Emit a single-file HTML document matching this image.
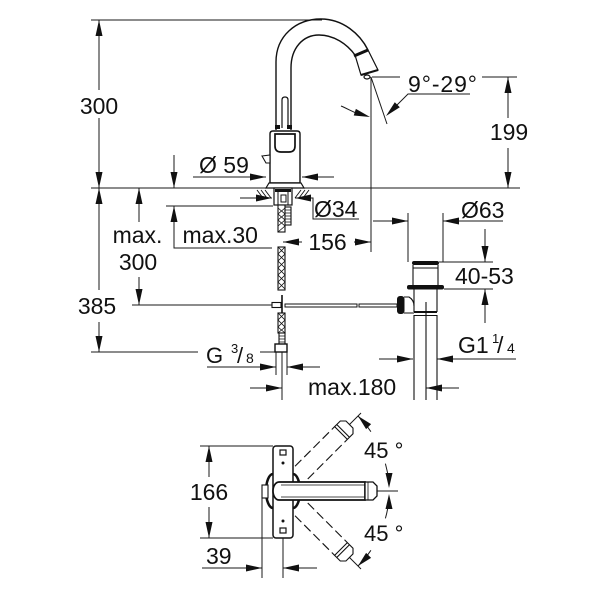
<!DOCTYPE html>
<html><head><meta charset="utf-8"><style>
html,body{margin:0;padding:0;background:#fff;}
svg{display:block;}
text{font-family:"Liberation Sans",Arial,sans-serif;fill:#111;}
</style></head><body>
<svg width="600" height="600" viewBox="0 0 600 600" xmlns="http://www.w3.org/2000/svg">
<rect width="600" height="600" fill="#fff"/>

<!-- dimension lines -->
<g stroke="#1a1a1a" stroke-width="1" fill="none">
<path d="M91 20H322"/>
<path d="M99 20V90M99 118V188"/>
<path d="M91 188H520"/>
<path d="M174 155V188"/>
<path d="M193 177H266M302 177H334"/>
<path d="M99 188V290M99 322V352"/>
<path d="M91 352H198M260 352H276"/>
<path d="M139 188V222M139 277V305"/>
<path d="M132 305H273"/>
<path d="M166 206H273M174 206V248H272"/>
<path d="M240 198H272M295 198H313V219H359"/>
<path d="M283 242H302M354 242H371M371 77V252"/>
<path d="M372 77H400M482 77H517M508 77V118M508 148V188"/>
<path d="M371 77L387 124"/>
<path d="M470 94H408L392 110"/>
<path d="M341 106C348 109 355 113 360 114.5"/>
<path d="M373 221H408M443 221H503M408 213V262M443 213V262"/>
<path d="M439 262H493M444 289H493M485 229V262M485 289V323"/>
<path d="M379 359H413M437 359H516"/>
<path d="M276 352V375M287 352V375M282 352V400M207 367H276M287 367H320"/>
<path d="M250 388H282M426 388H459"/>
<!-- top view dims -->
<path d="M200 446H273M200 538H273"/>
<path d="M209 446V477M209 507V538"/>
<path d="M262 498V578M283 538V578M202 568H262M283 568H317"/>
<path d="M377 491H398"/>
<path d="M358 416A106 106 0 0 1 370.9 431.7"/>
<path d="M385.4 463.6A106 106 0 0 1 388.9 482"/>
<path d="M388.9 500A106 106 0 0 1 385.4 518.4"/>
<path d="M370.9 550.3A106 106 0 0 1 358 566"/>
<path d="M349.5 424.5L361 413M349.5 557.5L361 569"/>
</g>

<!-- arrowheads -->
<g fill="#111" stroke="none">
<polygon points="99,20 95.5,36 102.5,36"/>
<polygon points="99,188 95.5,172 102.5,172"/>
<polygon points="174,188 170.5,172 177.5,172"/>
<polygon points="266,177 250,173.5 250,180.5"/>
<polygon points="302,177 318,173.5 318,180.5"/>
<polygon points="99,188 95.5,204 102.5,204"/>
<polygon points="99,352 95.5,336 102.5,336"/>
<polygon points="139,188 135.5,204 142.5,204"/>
<polygon points="139,305 135.5,289 142.5,289"/>
<polygon points="174,206 170.5,222 177.5,222"/>
<polygon points="272,198 256,194.5 256,201.5"/>
<polygon points="295,198 311,194.5 311,201.5"/>
<polygon points="283,242 299,238.5 299,245.5"/>
<polygon points="371,242 355,238.5 355,245.5"/>
<polygon points="508,77 504.5,93 511.5,93"/>
<polygon points="508,188 504.5,172 511.5,172"/>
<polygon points="386,116 399.8,107.2 394.8,102.2"/>
<polygon points="370,117 353.7,115.5 355.9,108.9"/>
<polygon points="408,221 392,217.5 392,224.5"/>
<polygon points="443,221 459,217.5 459,224.5"/>
<polygon points="485,262 481.5,246 488.5,246"/>
<polygon points="485,289 481.5,305 488.5,305"/>
<polygon points="413,359 397,355.5 397,362.5"/>
<polygon points="437,359 453,355.5 453,362.5"/>
<polygon points="276,367 260,363.5 260,370.5"/>
<polygon points="287,367 303,363.5 303,370.5"/>
<polygon points="282,388 266,384.5 266,391.5"/>
<polygon points="426,388 442,384.5 442,391.5"/>
<polygon points="209,446 205.5,462 212.5,462"/>
<polygon points="209,538 205.5,522 212.5,522"/>
<polygon points="262,568 246,564.5 246,571.5"/>
<polygon points="283,568 299,564.5 299,571.5"/>
<polygon points="358,416 371.1,424.1 366.1,429.1"/>
<polygon points="389,488 385.5,473 392.5,473"/>
<polygon points="389,494 385.5,509 392.5,509"/>
<polygon points="358,566 371.1,557.9 366.1,552.9"/>
</g>

<!-- faucet elevation -->
<g stroke="#111" fill="none">
<path d="M276 130V62C276 36 296 19 321 19C343 19 360 34 368 50" stroke-width="1.4"/>
<path d="M291 130V68C291 48 303 35 319 35C334 35 347 44 355 55" stroke-width="1.4"/>
<polygon points="355,55 368,50 378,70 361,75" fill="#fff" stroke-width="1.2"/>
<path d="M354 56L368 50" stroke-width="3"/>
<path d="M361 75L378 70" stroke-width="2"/>
<ellipse cx="367" cy="77" rx="3" ry="2" stroke-width="1.2"/>
<path d="M282 128V100Q282 97 285 97Q288 97 288 100V128" fill="#fff" stroke-width="1.2"/>
<rect x="275" y="125" width="5" height="4" fill="#111" stroke="none"/>
<rect x="287" y="125" width="5" height="4" fill="#111" stroke="none"/>
<path d="M270 183V134Q270 131 273 131H297Q300 131 300 134V183Z" fill="#fff" stroke-width="1.4"/>
<path d="M275 134H295V146Q295 152 289 152H281Q275 152 275 146Z" stroke-width="1.7"/>
<polygon points="262,156 270,155 270,163 266,163" fill="#fff" stroke-width="1.1"/>
<polygon points="269,183 301,183 304,188 266,188" fill="#fff" stroke-width="1.2"/>
<path d="M257 190L263 198M261 190L267 198M265 190L271 198M309 190L303 198M305 190L299 198M301 190L295 198" stroke-width="0.9"/>
<rect x="274" y="188" width="18" height="17" fill="#fff" stroke-width="1.2"/>
<rect x="275" y="189" width="16" height="3" fill="#111" stroke="none"/>
<path d="M278 192V205M288 192V205" stroke-width="1"/>
<rect x="281" y="195" width="5" height="7" stroke-width="1"/>
<!-- hoses -->
<rect x="278" y="205" width="7" height="27" fill="#fff" stroke-width="1.1"/>
<path d="M278 208L285 214L278 220L285 226L278 232M285 208L278 214L285 220L278 226" stroke-width="0.8"/>
<rect x="285" y="207" width="6" height="18" fill="#fff" stroke-width="1.1"/>
<path d="M285 210H291M285 213H291M285 216H291M285 219H291M285 222H291" stroke-width="0.8"/>
<rect x="278" y="247" width="7" height="43" fill="#fff" stroke-width="1.1"/>
<path d="M278 247L285 254L278 261L285 268L278 275L285 282L278 289M285 247L278 254L285 261L278 268L285 275L278 282L285 289" stroke-width="0.8"/>
<path d="M282 295V315" stroke-width="1.6"/>
<rect x="272" y="302.5" width="9" height="5" fill="#fff" stroke-width="1.1"/>
<rect x="285" y="304" width="72" height="3" fill="#fff" stroke-width="1"/>
<rect x="359" y="304" width="38" height="3" fill="#fff" stroke-width="1"/>
<rect x="278" y="313" width="7" height="20" fill="#fff" stroke-width="1.1"/>
<path d="M278 313L285 320L278 327L285 333M285 313L278 320L285 327L278 333" stroke-width="0.8"/>
<rect x="279" y="333" width="6" height="12" fill="#fff" stroke-width="1.1"/>
<path d="M279 336H285M279 339H285M279 342H285" stroke-width="0.8"/>
<rect x="275" y="344" width="12" height="8" fill="#fff" stroke-width="1.4"/>
<!-- drain -->
<rect x="412" y="261" width="27" height="4" rx="2" fill="#111" stroke="none"/>
<path d="M413 265V285M438 265V285M413 268H438" stroke-width="1.1"/>
<rect x="407" y="285" width="37" height="4.5" rx="2" fill="#111" stroke="none"/>
<path d="M414 289V312M437 289V312" stroke-width="1.1"/>
<rect x="414" y="311" width="23" height="2" fill="#111" stroke="none"/>
<path d="M414 315.5H437M414 315V400M437 315V400M426 302V400" stroke-width="1.1"/>
<path d="M404 297H409Q414 300 414 306M404 313H414" stroke-width="1.1"/>
<rect x="397" y="296" width="7.5" height="18" rx="3" fill="#111" stroke="none"/>
</g>

<!-- top view -->
<g stroke="#111" fill="none">
<g transform="rotate(-45 283 491)">
<path d="M296 482H365M296 500H365" stroke-dasharray="9 4" stroke-width="1.1"/>
<path d="M365 482H373L377 486V496L373 500H365ZM368 482V500" fill="#fff" stroke-width="1.1"/>
</g>
<g transform="rotate(45 283 491)">
<path d="M296 482H365M296 500H365" stroke-dasharray="9 4" stroke-width="1.1"/>
<path d="M365 482H373L377 486V496L373 500H365ZM368 482V500" fill="#fff" stroke-width="1.1"/>
</g>
<rect x="273" y="446" width="20" height="92" rx="3" fill="#fff" stroke-width="1.5"/>
<path d="M273 474A7 17 0 0 0 273 508M293 474A7 17 0 0 1 293 508" stroke-width="2.5"/>
<rect x="280" y="450" width="6" height="5" stroke-width="1.2"/>
<rect x="280" y="528" width="6" height="5" stroke-width="1.2"/>
<circle cx="283" cy="463" r="1" fill="#111"/>
<circle cx="283" cy="521" r="1" fill="#111"/>
<rect x="262" y="485" width="6" height="13" fill="#fff" stroke-width="1.1"/>
<path d="M279 482H365V500H279A6 9 0 0 1 279 482Z" fill="#fff" stroke-width="1.7"/>
<path d="M281 485H365M281 497H365" stroke-width="0.8"/>
<path d="M365 482H373L377 486V496L373 500H365Z" fill="#fff" stroke-width="1.3"/>
<path d="M368 482V500" stroke-width="0.8"/>
</g>

<!-- labels -->
<text x="99" y="114" font-size="23" text-anchor="middle">300</text>
<text x="97" y="314" font-size="23" text-anchor="middle">385</text>
<text x="137.5" y="243" font-size="23" text-anchor="middle">max.</text>
<text x="138" y="270" font-size="23" text-anchor="middle">300</text>
<text x="182.5" y="243" font-size="23">max.30</text>
<text x="199" y="173" font-size="23">Ø 59</text>
<text x="314" y="217" font-size="23">Ø34</text>
<text x="327.5" y="250" font-size="23" text-anchor="middle">156</text>
<text x="408" y="92" font-size="23" textLength="69" lengthAdjust="spacing">9°-29°</text>
<text x="509" y="140" font-size="23" text-anchor="middle">199</text>
<text x="461" y="218" font-size="23">Ø63</text>
<text x="455" y="284" font-size="23">40-53</text>
<text x="308" y="395" font-size="23">max.180</text>
<text x="206" y="363" font-size="22">G</text>
<text x="231" y="353" font-size="13">3</text>
<text x="237" y="363" font-size="22">/</text>
<text x="246" y="363" font-size="14">8</text>
<text x="458" y="353" font-size="23">G1</text>
<text x="492" y="343" font-size="13">1</text>
<text x="497" y="353" font-size="23">/</text>
<text x="507" y="353" font-size="14">4</text>
<text x="209" y="500" font-size="23" text-anchor="middle">166</text>
<text x="206" y="564" font-size="23">39</text>
<text x="364" y="458" font-size="22">45 °</text>
<text x="364" y="541" font-size="22">45 °</text>
</svg>
</body></html>
